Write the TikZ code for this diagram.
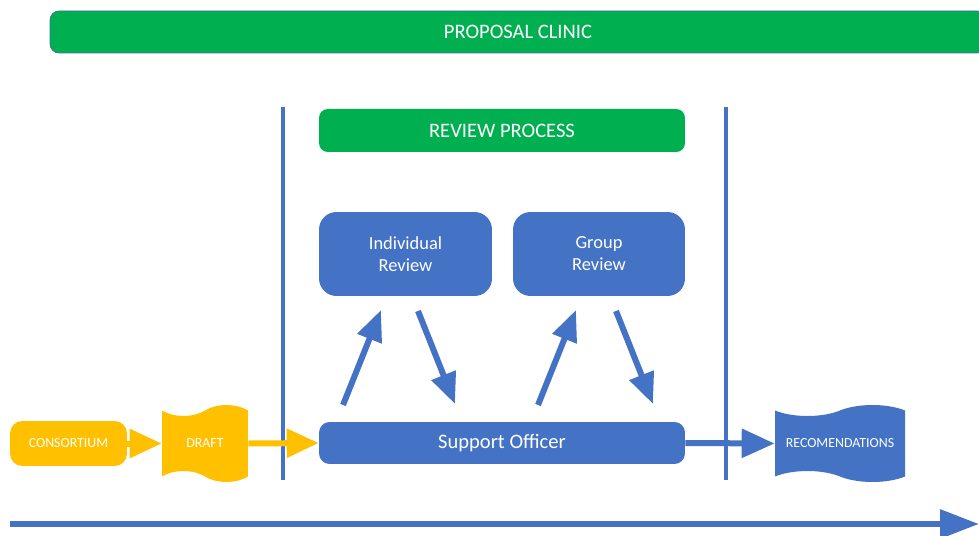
\documentclass[tikz,border=0pt]{standalone}
\usepackage{fontspec}
\setmainfont{Carlito}
\usetikzlibrary{%
  arrows.meta,%
  shapes.symbols%
}
\definecolor{offblue}{HTML}{4472C4}
\definecolor{offgreen}{HTML}{00B050}
\definecolor{offgold}{HTML}{FFC000}
\definecolor{offedge}{HTML}{41719C}
\tikzset{>=latex}
\tikzset{
  banner/.style={fill=offgreen,text=white,rounded corners=5pt,inner sep=0pt,
    font=\fontsize{11.7}{14}\selectfont},
  task/.style={fill=offblue,text=white,rounded corners=10pt,inner sep=0pt,
    align=center,font=\fontsize{10.5}{12.6}\selectfont},
  doc/.style={tape,tape bend top=in and out,tape bend bottom=out and in,
    tape bend height=0.22cm,inner sep=0pt,text=white,
    font=\fontsize{7.9}{9}\selectfont},
  divider/.style={offblue,line width=0.08cm},
  flow/.style={offblue,line width=0.12cm,
    -{Triangle[length=0.62cm,width=0.5cm]}},
  goldflow/.style={offgold,line width=0.12cm,
    -{Triangle[length=0.64cm,width=0.56cm]}},
  sideflow/.style={offblue,line width=0.12cm,
    -{Triangle[length=0.66cm,width=0.56cm]}}
}

\begin{document}
\begin{tikzpicture}[x=0.02cm,y=-0.02cm]
    \clip (0,0) rectangle (979,536);
    % banners
    \node[banner,draw=offedge,thin,minimum width=18.72cm,minimum height=0.84cm]
      (clinic) at (518,32) {PROPOSAL CLINIC};
    \node[banner,minimum width=7.32cm,minimum height=0.86cm]
      (process) at (502,130.5) {REVIEW PROCESS};
    % stage dividers
    \coordinate (lt) at (283,107);
    \coordinate (lb) at (283,480);
    \coordinate (rt) at (726,107);
    \coordinate (rb) at (726,480);
    \draw[divider] (lt) -- (lb);
    \draw[divider] (rt) -- (rb);
    % reviews
    \node[task,minimum width=3.46cm,minimum height=1.68cm] (indiv) at (405.5,254)
      {Individual\\Review};
    \node[task,minimum width=3.44cm,minimum height=1.68cm] (group) at (599,254)
      {Group\\Review};
    \node[task,rounded corners=6pt,minimum width=7.32cm,minimum height=0.84cm,
      font=\fontsize{11.7}{14}\selectfont] (officer) at (502,443) {Support Officer};
    % inputs and outputs
    \node[fill=offgold,text=white,rounded corners=7pt,minimum width=2.34cm,
      minimum height=0.9cm,inner sep=0pt,font=\fontsize{7.9}{9}\selectfont]
      (consortium) at (68.5,443.5) {CONSORTIUM};
    \node[doc,fill=offgold,minimum width=1.72cm,minimum height=1.54cm]
      (draft) at (205,443.5) {DRAFT};
    \node[doc,fill=offblue,minimum width=2.6cm,minimum height=1.54cm]
      (recs) at (840,443.5) {RECOMENDATIONS};
    % exchanges with the officer
    \coordinate (ia) at (343,405);
    \coordinate (ib) at (381,310);
    \coordinate (ic) at (418,311);
    \coordinate (id) at (455,404);
    \coordinate (ga) at (538,405);
    \coordinate (gb) at (576,310);
    \coordinate (gc) at (616,311);
    \coordinate (gd) at (653,404);
    \draw[flow] (ia) -- (ib);
    \draw[flow] (ic) -- (id);
    \draw[flow] (ga) -- (gb);
    \draw[flow] (gc) -- (gd);
    % main line
    \draw[goldflow] (consortium.east) -- (draft.west);
    \draw[goldflow] (draft.east) -- (officer.west);
    \draw[sideflow] (officer.east) -- (recs.west);
    % time axis
    \coordinate (t0) at (10,524);
    \coordinate (t1) at (979,524);
    \draw[offblue,line width=0.12cm,-{Triangle[length=0.78cm,width=0.56cm]}]
      (t0) -- (t1);
  \end{tikzpicture}
\end{document}
